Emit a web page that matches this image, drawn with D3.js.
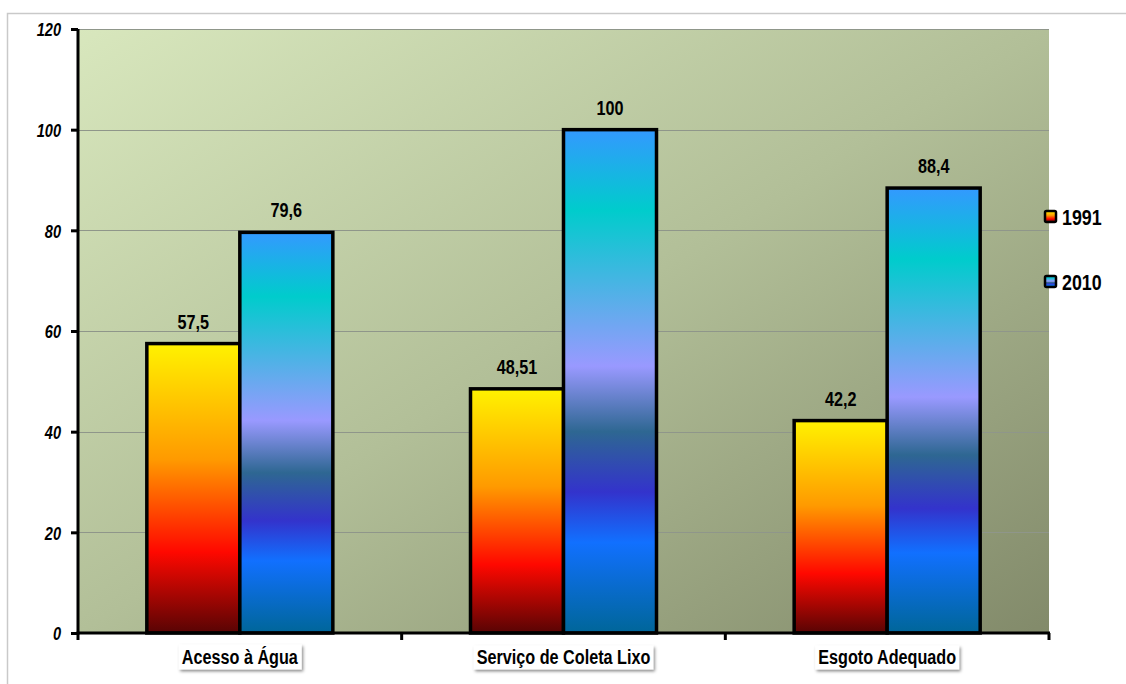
<!DOCTYPE html>
<html>
<head>
<meta charset="utf-8">
<script src="https://cdn.jsdelivr.net/npm/d3@7"></script>
<style>
  html, body { margin: 0; padding: 0; background: #fff; }
  svg { display: block; }
  text { font-family: "Liberation Sans", Arial, sans-serif; font-weight: bold; fill: #000; }
</style>
</head>
<body>
<svg id="chart" width="1126" height="684"></svg>
<script>
// Indicadores de saneamento (%)
const categories = ["Acesso à Água", "Serviço de Coleta Lixo", "Esgoto Adequado"];
const seriesNames = ["1991", "2010"];
const values1991 = [57.5, 48.51, 42.2];
const values2010 = [79.6, 100, 88.4];
const yTicks = [0, 20, 40, 60, 80, 100, 120];

const svg = d3.select("#chart");
const W = 1126, H = 684;
const plot = { left: 78, right: 1049, top: 29, bottom: 633 };
const NARROW = 0.81; // horizontal squeeze for a condensed look

// places a condensed text label with its anchor at (x, y)
function label(parent, x, y, txt, size, anchor, italic) {
  const g = parent.append("g").attr("transform", `translate(${x},${y})`);
  g.append("text")
    .attr("transform", `scale(${NARROW},1)`)
    .attr("text-anchor", anchor)
    .attr("dy", "0.35em")
    .style("font-size", size + "px")
    .style("font-style", italic ? "italic" : "normal")
    .text(txt);
  return g;
}

const defs = svg.append("defs");

// plot-area background: diagonal green-olive gradient
const bg = defs.append("linearGradient").attr("id", "bgGrad")
  .attr("x1", 0).attr("y1", 0).attr("x2", 1).attr("y2", 1);
bg.append("stop").attr("offset", "0%").attr("stop-color", "#d8e7bd");
bg.append("stop").attr("offset", "50%").attr("stop-color", "#b2bf98");
bg.append("stop").attr("offset", "100%").attr("stop-color", "#828a6a");

// "fire" fill for 1991
const fire = defs.append("linearGradient").attr("id", "grad1991")
  .attr("x1", 0).attr("y1", 0).attr("x2", 0).attr("y2", 1);
[["0%", "#fff200"], ["40%", "#ff9a00"], ["72%", "#ff0800"], ["100%", "#580404"]]
  .forEach(([o, c]) => fire.append("stop").attr("offset", o).attr("stop-color", c));

// "peacock" fill for 2010
const pea = defs.append("linearGradient").attr("id", "grad2010")
  .attr("x1", 0).attr("y1", 0).attr("x2", 0).attr("y2", 1);
[["0%", "#3399ff"], ["16%", "#00cccc"], ["47%", "#9999ff"], ["60%", "#2e6792"],
 ["72%", "#3333cc"], ["82%", "#1170ff"], ["100%", "#006699"]]
  .forEach(([o, c]) => pea.append("stop").attr("offset", o).attr("stop-color", c));

const shadow = defs.append("filter").attr("id", "shadow")
  .attr("x", "-20%").attr("y", "-30%").attr("width", "140%").attr("height", "170%");
shadow.append("feDropShadow").attr("dx", 1.5).attr("dy", 2).attr("stdDeviation", 1.5)
  .attr("flood-color", "#000").attr("flood-opacity", 0.45);

// outer frame
svg.append("path")
  .attr("d", `M7.5,${H} V13.5 H${W}`)
  .attr("fill", "none").attr("stroke", "#c9c9c9").attr("stroke-width", 1.5);

const y = d3.scaleLinear().domain([0, 120]).range([plot.bottom, plot.top]);
const x0 = d3.scaleBand().domain(categories).range([plot.left, plot.right]).padding(0);
const x1 = d3.scaleBand().domain(seriesNames).range([0, x0.bandwidth()])
  .paddingInner(0).paddingOuter(0.74);

svg.append("rect")
  .attr("x", plot.left).attr("y", plot.top)
  .attr("width", plot.right - plot.left).attr("height", plot.bottom - plot.top)
  .attr("fill", "url(#bgGrad)");

// gridlines
svg.append("g").selectAll("line").data(yTicks.filter(t => t > 0)).join("line")
  .attr("x1", plot.left).attr("x2", plot.right)
  .attr("y1", d => Math.round(y(d)) + 0.5).attr("y2", d => Math.round(y(d)) + 0.5)
  .attr("stroke", "#8f968a").attr("stroke-width", 1);

// bars
const data = categories.map((c, i) => ({
  cat: c,
  vals: [{ s: "1991", v: values1991[i] }, { s: "2010", v: values2010[i] }]
}));

const groups = svg.append("g").selectAll("g").data(data).join("g")
  .attr("transform", d => `translate(${x0(d.cat)},0)`);

groups.selectAll("rect").data(d => d.vals).join("rect")
  .attr("x", d => x1(d.s))
  .attr("y", d => y(d.v))
  .attr("width", x1.bandwidth())
  .attr("height", d => y(0) - y(d.v))
  .attr("fill", d => `url(#grad${d.s})`)
  .attr("stroke", "#000").attr("stroke-width", 3.5);

groups.each(function (d) {
  const g = d3.select(this);
  d.vals.forEach(v => {
    label(g, x1(v.s) + x1.bandwidth() / 2, y(v.v) - 22, String(v.v).replace(".", ","), 20, "middle", false);
  });
});

// y axis
const yAxis = svg.append("g").attr("transform", `translate(${plot.left},0)`)
  .call(d3.axisLeft(y).tickValues(yTicks).tickSize(7).tickFormat(""));
yAxis.select(".domain").attr("stroke", "#000").attr("stroke-width", 3)
  .attr("d", `M0,${plot.top}V${plot.bottom + 1.5}`);
yAxis.selectAll(".tick line").attr("stroke", "#000").attr("stroke-width", 3);
yAxis.selectAll(".tick text").remove();
const yLab = svg.append("g");
yTicks.forEach(t => label(yLab, 61, y(t) + 1, String(t), 18, "end", true));

// x axis
const xAxis = svg.append("g").attr("transform", `translate(0,${plot.bottom})`);
xAxis.append("line")
  .attr("x1", plot.left - 1.5).attr("x2", plot.right + 1)
  .attr("stroke", "#000").attr("stroke-width", 3);
const bounds = [plot.left, ...categories.map(c => x0(c) + x0.bandwidth())];
xAxis.selectAll("line.tk").data(bounds).join("line").attr("class", "tk")
  .attr("x1", d => d).attr("x2", d => d).attr("y1", 0).attr("y2", 7)
  .attr("stroke", "#000").attr("stroke-width", 3);

categories.forEach(c => {
  const g = label(xAxis, x0(c) + x0.bandwidth() / 2, 24, c, 20, "middle", false);
  const b = g.node().getBBox();
  g.insert("rect", "text")
    .attr("x", b.x - 3).attr("y", b.y - 1)
    .attr("width", b.width + 6).attr("height", b.height + 2)
    .attr("fill", "#fff").attr("filter", "url(#shadow)");
});

// legend
const legend = svg.append("g");
const legendY = [217, 282];
seriesNames.forEach((s, i) => {
  const g = legend.append("g").attr("transform", `translate(1045,${legendY[i]})`);
  g.append("rect").attr("x", 0).attr("y", -6).attr("width", 11).attr("height", 11)
    .attr("fill", `url(#grad${s})`).attr("stroke", "#000").attr("stroke-width", 2.5)
    .attr("rx", 1.5);
  label(g, 17, 0, s, 22, "start", false);
});
</script>
</body>
</html>
